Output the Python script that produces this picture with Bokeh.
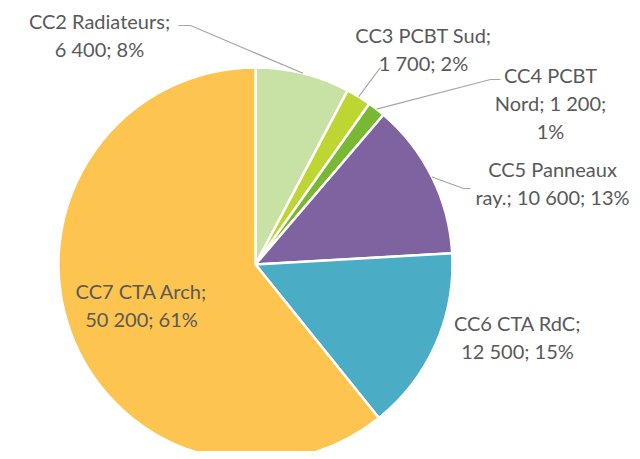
import math
from bokeh.plotting import figure
from bokeh.models import Range1d, ColumnDataSource
from bokeh.core.properties import value
from bokeh.embed import file_html
from bokeh.resources import INLINE

# ---- data ----
categories = ["CC2 Radiateurs", "CC3 PCBT Sud", "CC4 PCBT Nord", "CC5 Panneaux ray.", "CC6 CTA RdC", "CC7 CTA Arch"]
values = [6400, 1700, 1200, 10600, 12500, 50200]
percents = [8, 2, 1, 13, 15, 61]
colors = ["#C8E1A5", "#BDD631", "#78B832", "#7F62A0", "#4BACC6", "#FDC44F"]

# ---- layout (page pixel coordinates) ----
W, H = 632, 451
def px(x):
    return x
def py(y):
    return H - y

CX, CY, R = 255, 264, 197

def fmt(v):
    return f"{v:,}".replace(",", " ")

texts = [f"{c}; {fmt(v)}; {p}%" for c, v, p in zip(categories, values, percents)]
# line breaks for each label (as in the reference)
label_lines = [
    ["CC2 Radiateurs;", "6 400; 8%"],
    ["CC3 PCBT Sud;", "1 700; 2%"],
    ["CC4 PCBT", "Nord; 1 200;", "1%"],
    ["CC5 Panneaux", "ray.; 10 600; 13%"],
    ["CC6 CTA RdC;", "12 500; 15%"],
    ["CC7 CTA Arch;", "50 200; 61%"],
]
label_pos = [(99, 20), (423, 34), (550, 74), (552, 168), (517, 322), (141, 290)]
line_gap = 28
# leader line label-side points (None = no leader)
leader_ends = [[(190, 25), (178, 25)], [(380, 67)], [(490, 79), (500, 79)], [(463, 188), (470, 188)], None, None]

p = figure(width=W, height=H, output_backend="svg", toolbar_location=None,
           x_range=Range1d(0, W), y_range=Range1d(0, H), min_border=0)
p.axis.visible = False
p.grid.visible = False
p.outline_line_color = None
p.background_fill_color = "white"

total = sum(values)
cum = 0.0
starts, ends, mids = [], [], []
for v in values:
    a0 = cum / total * 2 * math.pi
    cum += v
    a1 = cum / total * 2 * math.pi
    # clockwise from top
    starts.append(math.pi / 2 - a1)
    ends.append(math.pi / 2 - a0)
    mids.append((a0 + a1) / 2)

src = ColumnDataSource(dict(x=[px(CX)] * len(values), y=[py(CY)] * len(values),
                            start=starts, end=ends, color=colors))
p.wedge(x="x", y="y", radius=R, radius_units="screen", start_angle="start", end_angle="end",
        fill_color="color", line_color="white", line_width=2.5, source=src)

# leader lines
for m, le in zip(mids, leader_ends):
    if le is None:
        continue
    ax = CX + R * math.sin(m)
    ay = CY - R * math.cos(m)
    xs = [px(ax)] + [px(x) for x, _ in le]
    ys = [py(ay)] + [py(y) for _, y in le]
    p.line(xs, ys, line_color="#A6A6A6", line_width=1.2)

# labels
tx, ty, tt = [], [], []
for lines, (lx, ly) in zip(label_lines, label_pos):
    for i, t in enumerate(lines):
        tx.append(px(lx))
        ty.append(py(ly + i * line_gap))
        tt.append(t)
p.text(x=tx, y=ty, text=tt, text_font=value("Lato"), text_font_size="20px",
       text_color="#595959", text_align="center", text_baseline="middle")

open("out.html", "w").write(file_html(p, INLINE))
